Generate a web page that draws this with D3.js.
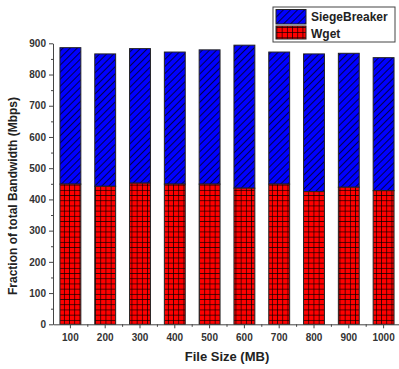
<!DOCTYPE html>
<html>
<head>
<meta charset="utf-8">
<script src="https://cdn.jsdelivr.net/npm/d3@7"></script>
<style>
  body { margin: 0; background: #fff; }
  text { font-family: Arial, "Liberation Sans", sans-serif; }
</style>
</head>
<body>
<div id="chart"></div>
<script>
// data
var fileSizes = ["100", "200", "300", "400", "500", "600", "700", "800", "900", "1000"];
var wget = [449, 442, 452, 449, 449, 436, 449, 425, 439, 428];
var totals = [886, 866, 883, 872, 879, 894, 872, 866, 868, 854];
var yTicks = [0, 100, 200, 300, 400, 500, 600, 700, 800, 900];
var seriesNames = ["SiegeBreaker", "Wget"];

var width = 399, height = 369;
var margin = {top: 43.3, left: 53, bottom: 44.7};
var innerH = height - margin.top - margin.bottom;

var svg = d3.select("#chart").append("svg")
    .attr("width", width)
    .attr("height", height);

// patterns: blue with diagonal hatch, red with black grid
var defs = svg.append("defs");
var hatch = defs.append("pattern")
    .attr("id", "hatch")
    .attr("patternUnits", "userSpaceOnUse")
    .attr("width", 5)
    .attr("height", 5)
    .attr("patternTransform", "rotate(45)");
hatch.append("rect").attr("width", 5).attr("height", 5).attr("fill", "#0000ff");
hatch.append("line").attr("x1", 0).attr("y1", 0).attr("x2", 0).attr("y2", 5)
    .attr("stroke", "#000").attr("stroke-width", 1.4);

var grid = defs.append("pattern")
    .attr("id", "grid")
    .attr("patternUnits", "userSpaceOnUse")
    .attr("width", 5.2)
    .attr("height", 5.2)
    .attr("x", 0.5)
    .attr("y", 1);
grid.append("rect").attr("width", 5.2).attr("height", 5.2).attr("fill", "#ff0000");
grid.append("path").attr("d", "M0,0H5.2M0,0V5.2")
    .attr("stroke", "#000").attr("stroke-width", 1.3).attr("fill", "none");

var g = svg.append("g")
    .attr("transform", "translate(" + margin.left + "," + margin.top + ")");

var xScale = d3.scaleBand()
    .domain(fileSizes)
    .range([0, 348])
    .paddingInner(0.4)
    .paddingOuter(0.2);

var yScale = d3.scaleLinear()
    .domain([0, 900])
    .range([innerH, 0]);

// bars: siegebreaker on top of wget
var bars = g.selectAll(".bar")
    .data(fileSizes)
    .enter().append("g")
    .attr("class", "bar");

bars.append("rect")
    .attr("x", function(d){ return xScale(d); })
    .attr("y", function(d, i){ return yScale(totals[i]); })
    .attr("width", xScale.bandwidth())
    .attr("height", function(d, i){ return yScale(wget[i]) - yScale(totals[i]); })
    .attr("fill", "url(#hatch)")
    .attr("stroke", "#222")
    .attr("stroke-width", 1);

bars.append("rect")
    .attr("x", function(d){ return xScale(d); })
    .attr("y", function(d, i){ return yScale(wget[i]); })
    .attr("width", xScale.bandwidth())
    .attr("height", function(d, i){ return innerH - yScale(wget[i]); })
    .attr("fill", "url(#grid)")
    .attr("stroke", "#222")
    .attr("stroke-width", 1);

// y axis
var yAxis = g.append("g")
    .attr("class", "y axis")
    .call(d3.axisLeft(yScale).tickValues(yTicks).tickSize(4).tickPadding(3).tickSizeOuter(0));
// minor ticks at the 50s
yAxis.selectAll(".minor")
    .data(yTicks.slice(0, -1).map(function(v){ return v + 50; }))
    .enter().append("line")
    .attr("class", "minor")
    .attr("x1", -2).attr("x2", 0)
    .attr("y1", function(d){ return yScale(d) + 0.5; })
    .attr("y2", function(d){ return yScale(d) + 0.5; })
    .attr("stroke", "#444");

// x axis
var xAxis = g.append("g")
    .attr("class", "x axis")
    .attr("transform", "translate(0," + innerH + ")")
    .call(d3.axisBottom(xScale).tickSize(4).tickPadding(6).tickSizeOuter(0));
xAxis.selectAll(".minor")
    .data(fileSizes.slice(1))
    .enter().append("line")
    .attr("class", "minor")
    .attr("x1", function(d){ return xScale(d) - xScale.step() * 0.2; })
    .attr("x2", function(d){ return xScale(d) - xScale.step() * 0.2; })
    .attr("y1", 0).attr("y2", 2.5)
    .attr("stroke", "#444");

svg.selectAll(".axis path, .axis line").attr("stroke", "#444");
svg.selectAll(".axis text")
    .attr("font-size", 10)
    .attr("font-weight", "bold")
    .attr("fill", "#333");

// axis titles
svg.append("text")
    .attr("x", 227)
    .attr("y", 361)
    .attr("text-anchor", "middle")
    .attr("font-size", 13)
    .attr("font-weight", "bold")
    .attr("fill", "#222")
    .text("File Size (MB)");

svg.append("text")
    .attr("transform", "translate(17,196) rotate(-90)")
    .attr("text-anchor", "middle")
    .attr("font-size", 12)
    .attr("font-weight", "bold")
    .attr("fill", "#222")
    .text("Fraction of total Bandwidth (Mbps)");

// legend
var legend = svg.append("g").attr("transform", "translate(273,7)");
legend.append("rect")
    .attr("width", 122).attr("height", 35)
    .attr("fill", "#fff").attr("stroke", "#444");
var fills = ["url(#hatch)", "url(#grid)"];
var items = legend.selectAll(".item")
    .data(seriesNames)
    .enter().append("g")
    .attr("class", "item")
    .attr("transform", function(d, i){ return "translate(3," + (2.5 + i * 16.5) + ")"; });
items.append("rect")
    .attr("width", 30).attr("height", function(d, i){ return i ? 13 : 14.5; })
    .attr("fill", function(d, i){ return fills[i]; })
    .attr("stroke", "#222");
items.append("text")
    .attr("x", 35)
    .attr("y", 11.5)
    .attr("font-size", 12)
    .attr("font-weight", "bold")
    .attr("fill", "#222")
    .text(function(d){ return d; });
</script>
</body>
</html>
